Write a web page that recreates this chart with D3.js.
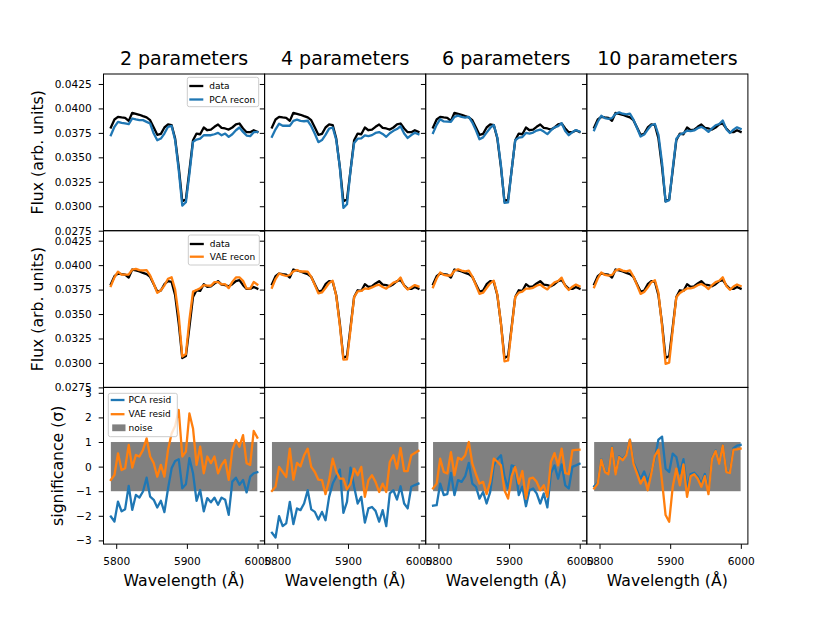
<!DOCTYPE html>
<html><head><meta charset="utf-8">
<script src="https://cdn.jsdelivr.net/npm/d3@7/dist/d3.min.js"></script>
<style>body{margin:0;background:#fff}svg{display:block}text{font-family:"DejaVu Sans",sans-serif;fill:#000}</style>
</head><body><div id="chart"></div>
<script>
// ---------------- data ----------------
const columnTitles = ["2 parameters", "4 parameters", "6 parameters", "10 parameters"];
const fluxTicks = [0.0275, 0.0300, 0.0325, 0.0350, 0.0375, 0.0400, 0.0425];
const sigTicks = [-3, -2, -1, 0, 1, 2, 3];
const waveTicks = [5800, 5900, 6000];

const wavelength = [5792.4,5797.5,5802.5,5807.6,5812.6,5817.7,5822.7,5827.8,5832.8,5837.9,5843.0,5848.0,5853.1,5858.1,5863.2,5868.2,5873.3,5878.4,5883.4,5888.5,5893.5,5898.6,5903.6,5908.7,5913.7,5918.8,5923.9,5928.9,5934.0,5939.0,5944.1,5949.1,5954.2,5959.2,5964.3,5969.4,5974.4,5979.5,5984.5,5989.6,5994.6,5999.7];

const dataFlux = [0.03805,0.03887,0.03914,0.03908,0.03904,0.03873,0.03955,0.03945,0.03935,0.03921,0.03908,0.03880,0.03805,0.03730,0.03740,0.03805,0.03836,0.03829,0.03692,0.03401,0.03050,0.03070,0.03366,0.03675,0.03743,0.03736,0.03805,0.03777,0.03784,0.03812,0.03836,0.03801,0.03795,0.03784,0.03805,0.03836,0.03846,0.03795,0.03757,0.03757,0.03777,0.03760];

const pcaRecon2 = [0.03726,0.03812,0.03863,0.03853,0.03846,0.03839,0.03897,0.03887,0.03880,0.03880,0.03863,0.03846,0.03743,0.03675,0.03692,0.03743,0.03812,0.03822,0.03675,0.03366,0.03007,0.03041,0.03332,0.03658,0.03682,0.03692,0.03726,0.03726,0.03726,0.03736,0.03750,0.03726,0.03743,0.03709,0.03736,0.03777,0.03805,0.03760,0.03723,0.03716,0.03757,0.03760];
const pcaRecon4 = [0.03711,0.03786,0.03844,0.03823,0.03823,0.03823,0.03873,0.03886,0.03873,0.03869,0.03874,0.03819,0.03741,0.03655,0.03676,0.03729,0.03793,0.03805,0.03678,0.03397,0.02984,0.03020,0.03365,0.03646,0.03691,0.03693,0.03725,0.03718,0.03727,0.03749,0.03758,0.03739,0.03710,0.03746,0.03771,0.03789,0.03818,0.03743,0.03698,0.03728,0.03751,0.03736];
const pcaRecon6 = [0.03749,0.03832,0.03890,0.03867,0.03865,0.03864,0.03914,0.03926,0.03913,0.03907,0.03913,0.03856,0.03776,0.03685,0.03704,0.03753,0.03800,0.03831,0.03703,0.03417,0.03035,0.03039,0.03368,0.03675,0.03702,0.03707,0.03749,0.03743,0.03753,0.03774,0.03784,0.03763,0.03737,0.03775,0.03807,0.03819,0.03849,0.03768,0.03726,0.03757,0.03779,0.03764];
const pcaRecon10 = [0.03777,0.03864,0.03925,0.03901,0.03894,0.03901,0.03945,0.03960,0.03946,0.03939,0.03947,0.03886,0.03800,0.03713,0.03733,0.03784,0.03828,0.03841,0.03731,0.03444,0.03047,0.03062,0.03385,0.03689,0.03733,0.03747,0.03774,0.03767,0.03775,0.03798,0.03812,0.03791,0.03760,0.03796,0.03828,0.03841,0.03877,0.03788,0.03749,0.03783,0.03807,0.03791];

const vaeRecon2 = [0.03786,0.03875,0.03933,0.03903,0.03902,0.03904,0.03954,0.03962,0.03949,0.03945,0.03948,0.03894,0.03810,0.03716,0.03743,0.03791,0.03860,0.03876,0.03750,0.03482,0.03064,0.03091,0.03442,0.03729,0.03746,0.03764,0.03796,0.03791,0.03789,0.03826,0.03827,0.03804,0.03805,0.03765,0.03829,0.03874,0.03874,0.03840,0.03762,0.03760,0.03828,0.03801];
const vaeRecon4 = [0.03770,0.03858,0.03914,0.03900,0.03889,0.03899,0.03936,0.03950,0.03935,0.03937,0.03934,0.03880,0.03797,0.03711,0.03721,0.03766,0.03817,0.03840,0.03685,0.03384,0.03033,0.03037,0.03342,0.03672,0.03731,0.03736,0.03762,0.03758,0.03772,0.03790,0.03800,0.03777,0.03759,0.03791,0.03821,0.03833,0.03873,0.03789,0.03751,0.03773,0.03796,0.03782];
const vaeRecon6 = [0.03774,0.03863,0.03925,0.03900,0.03894,0.03894,0.03943,0.03958,0.03945,0.03937,0.03943,0.03884,0.03794,0.03706,0.03718,0.03766,0.03814,0.03840,0.03699,0.03403,0.03016,0.03025,0.03352,0.03675,0.03719,0.03730,0.03760,0.03760,0.03768,0.03790,0.03802,0.03774,0.03752,0.03791,0.03824,0.03838,0.03872,0.03786,0.03746,0.03780,0.03801,0.03784];
const vaeRecon10 = [0.03774,0.03863,0.03924,0.03900,0.03893,0.03900,0.03944,0.03959,0.03944,0.03937,0.03946,0.03884,0.03795,0.03706,0.03725,0.03771,0.03826,0.03845,0.03716,0.03380,0.02991,0.03003,0.03337,0.03672,0.03716,0.03739,0.03762,0.03763,0.03773,0.03795,0.03807,0.03787,0.03756,0.03795,0.03827,0.03840,0.03876,0.03787,0.03748,0.03781,0.03802,0.03786];

const pcaResid2 = [-2.03,-2.23,-1.42,-1.82,-1.73,-0.78,-1.76,-1.15,-1.26,-1.01,-0.45,-1.22,-1.35,-1.66,-1.39,-1.85,-0.90,-0.07,0.23,0.30,-0.88,-0.72,0.34,-0.27,-1.39,-0.95,-1.82,-1.28,-1.45,-1.26,-1.55,-1.26,-1.35,-1.96,-0.61,-0.45,-0.74,-0.54,-1.05,-0.41,-0.27,-0.23];
const pcaResid4 = [-2.69,-2.88,-2.01,-2.42,-2.31,-1.43,-2.34,-1.70,-1.77,-1.50,-0.96,-1.74,-1.84,-2.15,-1.84,-2.18,-1.23,-0.69,-0.40,-0.12,-1.88,-1.43,-0.04,-0.82,-1.50,-1.23,-2.28,-1.70,-1.64,-1.80,-2.24,-1.77,-2.42,-1.09,-0.96,-1.34,-0.80,-1.50,-1.70,-0.82,-0.75,-0.69];
const pcaResid6 = [-1.59,-1.57,-0.69,-1.16,-1.12,-0.26,-1.16,-0.55,-0.62,-0.39,0.15,-0.69,-0.82,-1.30,-1.03,-1.50,-1.03,0.05,0.30,0.46,-0.42,-0.89,0.05,-0.01,-1.16,-0.82,-1.61,-0.96,-0.89,-1.09,-1.50,-1.09,-1.66,-0.26,0.05,-0.49,0.09,-0.76,-0.89,-0.01,0.05,0.12];
const pcaResid10 = [-0.80,-0.65,0.30,-0.20,-0.28,0.80,-0.28,0.42,0.30,0.50,1.10,0.18,-0.15,-0.50,-0.20,-0.60,-0.22,0.35,1.10,1.22,-0.08,-0.22,0.53,0.39,-0.28,0.30,-0.90,-0.30,-0.25,-0.40,-0.70,-0.30,-1.00,0.35,0.66,0.15,0.88,-0.20,-0.22,0.75,0.85,0.88];

const vaeResid2 = [-0.54,-0.34,0.54,-0.14,-0.07,0.88,-0.04,0.47,0.41,0.68,1.15,0.41,0.14,-0.41,0.07,-0.41,0.68,1.35,1.65,2.30,0.41,0.61,2.16,1.55,0.07,0.81,-0.27,0.41,0.14,0.41,-0.27,0.07,0.27,-0.54,0.68,1.08,0.81,1.28,0.14,0.07,1.45,1.18];
const vaeResid4 = [-0.99,-0.82,-0.01,-0.22,-0.42,0.73,-0.53,0.15,0.01,0.46,0.73,-0.01,-0.22,-0.53,-0.55,-1.12,-0.55,0.32,-0.20,-0.49,-0.49,-0.93,-0.69,-0.08,-0.35,-0.01,-1.23,-0.55,-0.35,-0.62,-1.03,-0.69,-1.03,0.19,0.46,-0.08,0.76,-0.18,-0.18,0.46,0.55,0.64];
const vaeResid6 = [-0.89,-0.69,0.32,-0.22,-0.28,0.59,-0.35,0.36,0.28,0.46,1.00,0.12,-0.31,-0.69,-0.62,-1.12,-0.62,0.32,0.20,0.05,-0.96,-1.30,-0.39,-0.01,-0.69,-0.18,-1.30,-0.49,-0.45,-0.62,-0.96,-0.76,-1.23,0.19,0.55,0.05,0.73,-0.26,-0.31,0.66,0.68,0.69];
const vaeResid10 = [-0.89,-0.69,0.28,-0.22,-0.31,0.77,-0.31,0.39,0.26,0.46,1.09,0.12,-0.28,-0.69,-0.42,-0.96,-0.28,0.45,0.69,-0.60,-1.97,-2.24,-0.82,-0.08,-0.76,0.09,-1.23,-0.39,-0.31,-0.49,-0.82,-0.39,-1.12,0.32,0.64,0.12,0.86,-0.22,-0.26,0.69,0.70,0.73];

const noiseBand = [-1, 1];

const pcaRecons = [pcaRecon2, pcaRecon4, pcaRecon6, pcaRecon10];
const vaeRecons = [vaeRecon2, vaeRecon4, vaeRecon6, vaeRecon10];
const pcaResids = [pcaResid2, pcaResid4, pcaResid6, pcaResid10];
const vaeResids = [vaeResid2, vaeResid4, vaeResid6, vaeResid10];

// ---------------- layout ----------------
const W = 831, H = 623;
const L = 103.5, T = 74, PW = 161.1, PH = 156.7;
const xDomain = [5782, 6010];
const fluxDomain = [0.0275, 0.04352];
const sigDomain = [-3.15, 3.22];
const BLUE = "#1f77b4", ORANGE = "#ff7f0e", GREY = "#808080";
const LW = 2.3, TICK_FS = 10.6, LABEL_FS = 15.7, TITLE_FS = 19, LEG_FS = 9;

const svg = d3.select("#chart").append("svg").attr("width", W).attr("height", H);
const defs = svg.append("defs");

function drawLine(g, x, y, vals, color, clipId) {
  const line = d3.line().x((d, i) => x(wavelength[i])).y(d => y(d));
  g.append("path").datum(vals).attr("d", line)
    .attr("fill", "none").attr("stroke", color).attr("stroke-width", LW)
    .attr("stroke-linejoin", "round").attr("stroke-linecap", "square")
    .attr("clip-path", `url(#${clipId})`);
}

function legend(g, bx, by, bw, bh, entries, textX, handleX0, handleX1) {
  g.append("rect").attr("x", bx).attr("y", by).attr("width", bw).attr("height", bh)
    .attr("rx", 2).attr("fill", "white").attr("fill-opacity", 0.8)
    .attr("stroke", "#cccccc").attr("stroke-width", 1);
  entries.forEach(e => {
    if (e.type === "line") {
      g.append("line").attr("x1", handleX0).attr("x2", handleX1).attr("y1", e.y).attr("y2", e.y)
        .attr("stroke", e.color).attr("stroke-width", LW);
    } else {
      g.append("rect").attr("x", handleX0 + 1.5).attr("y", e.y - 3.4).attr("width", handleX1 - handleX0 - 0.5).attr("height", 6.8)
        .attr("fill", e.color);
    }
    g.append("text").attr("x", textX).attr("y", e.y).attr("dy", "0.35em")
      .attr("font-size", LEG_FS).text(e.label);
  });
}

const fluxFmt = d3.format(".4f");
const sigFmt = d => (d < 0 ? "\u2212" + Math.abs(d) : String(d));

for (let c = 0; c < 4; c++) {
  const x0 = L + c * PW;
  const x = d3.scaleLinear().domain(xDomain).range([x0, x0 + PW]);
  for (let r = 0; r < 3; r++) {
    const y0 = T + r * PH;
    const y = d3.scaleLinear().domain(r < 2 ? fluxDomain : sigDomain).range([y0 + PH, y0]);
    const clipId = `clip-${r}-${c}`;
    defs.append("clipPath").attr("id", clipId).append("rect")
      .attr("x", x0).attr("y", y0).attr("width", PW).attr("height", PH);
    const g = svg.append("g");

    if (r === 0) {
      drawLine(g, x, y, dataFlux, "#000", clipId);
      drawLine(g, x, y, pcaRecons[c], BLUE, clipId);
    } else if (r === 1) {
      drawLine(g, x, y, dataFlux, "#000", clipId);
      drawLine(g, x, y, vaeRecons[c], ORANGE, clipId);
    } else {
      const xs = d3.extent(wavelength);
      g.append("rect").attr("x", x(xs[0])).attr("width", x(xs[1]) - x(xs[0]))
        .attr("y", y(noiseBand[1])).attr("height", y(noiseBand[0]) - y(noiseBand[1]))
        .attr("fill", GREY);
      drawLine(g, x, y, pcaResids[c], BLUE, clipId);
      drawLine(g, x, y, vaeResids[c], ORANGE, clipId);
    }

    // y axis
    const yAxis = d3.axisLeft(y).tickValues(r < 2 ? fluxTicks : sigTicks)
      .tickSize(4.8).tickSizeOuter(0).tickPadding(7)
      .tickFormat(c === 0 ? (r < 2 ? fluxFmt : sigFmt) : () => "");
    const ya = g.append("g").attr("transform", `translate(${x0},0)`).call(yAxis);
    ya.select(".domain").remove();
    ya.selectAll("line").attr("stroke", "#000").attr("stroke-width", 1);
    ya.selectAll("text").attr("font-size", TICK_FS).attr("font-family", "DejaVu Sans").attr("fill", "#000");

    if (r === 2) {
      const xAxis = d3.axisBottom(x).tickValues(waveTicks).tickSize(4.8).tickSizeOuter(0)
        .tickPadding(8.7).tickFormat(d3.format("d"));
      const xa = g.append("g").attr("transform", `translate(0,${y0 + PH})`).call(xAxis);
      xa.select(".domain").remove();
      xa.selectAll("line").attr("stroke", "#000").attr("stroke-width", 1);
      xa.selectAll("text").attr("font-size", TICK_FS).attr("font-family", "DejaVu Sans").attr("fill", "#000");
    }

    // frame
    g.append("rect").attr("x", x0).attr("y", y0).attr("width", PW).attr("height", PH)
      .attr("fill", "none").attr("stroke", "#000").attr("stroke-width", 1);

    if (c === 0 && r === 0) {
      legend(g, 187.3, y0 + 3.3, 71.4, 29.4,
        [{type: "line", color: "#000", label: "data", y: y0 + 12},
         {type: "line", color: BLUE, label: "PCA recon", y: y0 + 25.5}],
        209.3, 189.3, 203.3);
    }
    if (c === 0 && r === 1) {
      legend(g, 188.3, y0 + 4.3, 71, 30,
        [{type: "line", color: "#000", label: "data", y: y0 + 13.3},
         {type: "line", color: ORANGE, label: "VAE recon", y: y0 + 26}],
        209.8, 189.8, 203.8);
    }
    if (c === 0 && r === 2) {
      legend(g, 108.3, y0 + 5.9, 69, 43.4,
        [{type: "line", color: BLUE, label: "PCA resid", y: y0 + 12.6},
         {type: "line", color: ORANGE, label: "VAE resid", y: y0 + 26.8},
         {type: "patch", color: GREY, label: "noise", y: y0 + 40.4}],
        128.6, 110.7, 124.5);
    }
  }
  // title
  svg.append("text").attr("x", x0 + PW / 2).attr("y", 65).attr("text-anchor", "middle")
    .attr("font-size", TITLE_FS).text(columnTitles[c]);
  // x label
  svg.append("text").attr("x", x0 + PW / 2).attr("y", 586).attr("text-anchor", "middle")
    .attr("font-size", LABEL_FS).text("Wavelength (Å)");
}

// y labels
[["Flux (arb. units)", 43, T + PH / 2], ["Flux (arb. units)", 43, T + 1.5 * PH], ["significance (σ)", 63, T + 2.5 * PH]]
  .forEach(([t, xx, yy]) => {
    svg.append("text").attr("transform", `translate(${xx},${yy}) rotate(-90)`)
      .attr("text-anchor", "middle").attr("font-size", LABEL_FS).text(t);
  });
</script>
</body></html>
